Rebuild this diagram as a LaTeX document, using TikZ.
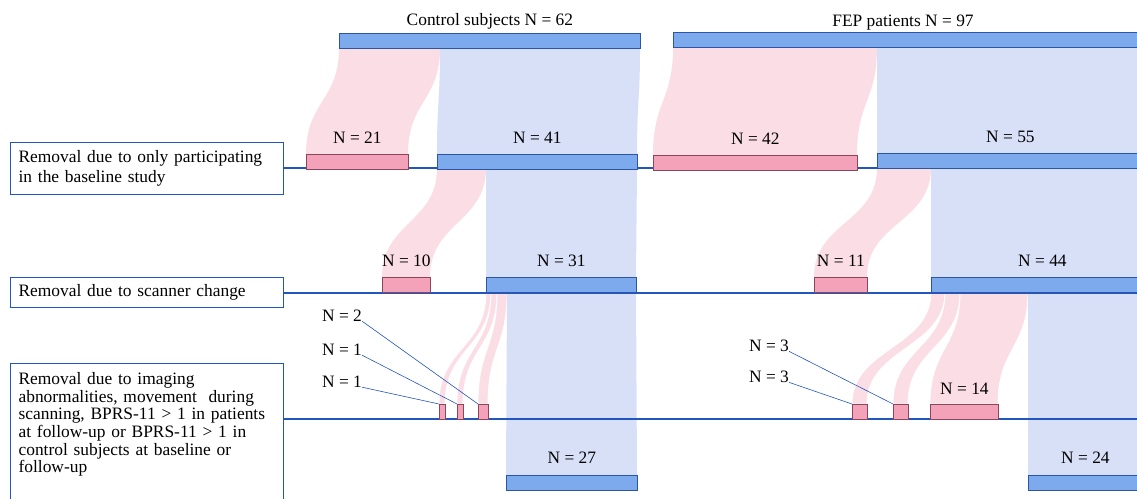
\documentclass[tikz,border=0pt]{standalone}
\usepackage{fontspec}
\setmainfont{Liberation Serif}
\usetikzlibrary{positioning}
\definecolor{flowpink}{RGB}{251,222,229}
\definecolor{flowblue}{RGB}{216,224,248}
\definecolor{barblue}{RGB}{125,170,236}
\definecolor{barblueline}{RGB}{45,85,165}
\definecolor{barpink}{RGB}{244,162,186}
\definecolor{barpinkline}{RGB}{140,70,90}
\definecolor{lineblue}{RGB}{35,85,190}

% band between two bars: x1a x1b y1 -> x2a x2b y2, style
\newcommand{\flowband}[7]{%
  \fill[#7] (#1,#3) .. controls (#1,{(#3+#6)/2}) and (#4,{(#3+#6)/2}) .. (#4,#6)
    -- (#5,#6) .. controls (#5,{(#3+#6)/2}) and (#2,{(#3+#6)/2}) .. (#2,#3) -- cycle;}

\begin{document}
\begin{tikzpicture}[
    x=1pt, y=-1pt,
    font=\fontsize{17.4}{20}\selectfont,
    bluebar/.style={draw=barblueline, fill=barblue, line width=0.8pt, inner sep=0pt, minimum height=15pt, anchor=north west},
    pinkbar/.style={draw=barpinkline, fill=barpink, line width=0.8pt, inner sep=0pt, minimum height=15pt, anchor=north west},
    strand/.style={fill=flowpink, draw=white, line width=0.8pt},
    count/.style={inner sep=0pt},
    rulebox/.style={draw=lineblue, line width=1.2pt, align=left, inner xsep=8pt, text width=257pt, anchor=north west},
    level/.style={draw=lineblue, line width=1.2pt},
    leader/.style={draw=lineblue, line width=0.6pt}
]
    \clip (0,0) rectangle (1137,498);

    % Flows, control subjects
    \flowband{339}{440}{48}{306}{408}{154}{flowpink}
    \flowband{440}{640}{48}{437}{637}{154}{flowblue}
    \flowband{437}{486}{168}{382}{430}{277}{flowpink}
    \flowband{486}{637}{168}{486}{636}{277}{flowblue}
    \flowband{486}{491}{292}{439}{445}{404}{strand}
    \flowband{491}{497}{292}{457}{463}{404}{strand}
    \flowband{497}{507}{292}{478}{488}{404}{strand}
    \flowband{507}{636}{292}{506}{637}{475}{flowblue}

    % Flows, FEP patients
    \flowband{673}{877}{47}{653}{857}{155}{flowpink}
    \flowband{877}{1150}{47}{877}{1150}{153}{flowblue}
    \flowband{877}{931}{168}{814}{867}{277}{flowpink}
    \flowband{931}{1150}{168}{931}{1150}{277}{flowblue}
    \flowband{931}{945}{292}{852}{867}{404}{strand}
    \flowband{945}{960}{292}{893}{908}{404}{strand}
    \flowband{960}{1028}{292}{930}{998}{404}{strand}
    \flowband{1028}{1150}{292}{1028}{1150}{475}{flowblue}

    % Removal steps
    \node[rulebox, minimum height=52pt] (box1) at (10,142) {Removal due to only participating\\in the baseline study};
    \node[rulebox, minimum height=30pt] (box2) at (10,277) {Removal due to scanner change};
    \node[rulebox, inner ysep=9pt] (box3) at (10,363) {\parbox[t][140pt][t]{257pt}{\fontsize{17.4}{17.6}\selectfont
        Removal due to imaging\\abnormalities, movement\ \ during\\scanning, BPRS-11 > 1 in patients\\at follow-up or BPRS-11 > 1 in\\control subjects at baseline or\\follow-up}};

    \coordinate (l1) at (1137,168);
    \coordinate (l2) at (1137,293);
    \coordinate (l3) at (1137,419);
    \draw[level] (box1.east |- l1) -- (l1);
    \draw[level] (box2.east |- l2) -- (l2);
    \draw[level] (box3.east |- l3) -- (l3);

    % Bars
    \node[bluebar, minimum width=301pt] (ctop) at (339,33) {};
    \node[bluebar, minimum width=470pt] (ftop) at (673,32) {};
    \node[pinkbar, minimum width=102pt] (c21) at (306,154) {};
    \node[bluebar, minimum width=200pt] (c41) at (437,154) {};
    \node[pinkbar, minimum width=204pt] (f42) at (653,155) {};
    \node[bluebar, minimum width=266pt] (f55) at (877,153) {};
    \node[pinkbar, minimum width=48pt] (c10) at (382,277) {};
    \node[bluebar, minimum width=150pt] (c31) at (486,277) {};
    \node[pinkbar, minimum width=53pt] (f11) at (814,277) {};
    \node[bluebar, minimum width=222pt] (f44) at (931,277) {};
    \node[pinkbar, minimum width=6pt] (c1a) at (439,404) {};
    \node[pinkbar, minimum width=6pt] (c1b) at (457,404) {};
    \node[pinkbar, minimum width=10pt] (c2) at (478,404) {};
    \node[pinkbar, minimum width=15pt] (f3a) at (852,404) {};
    \node[pinkbar, minimum width=15pt] (f3b) at (893,404) {};
    \node[pinkbar, minimum width=68pt] (f14) at (930,404) {};
    \node[bluebar, minimum width=131pt] (c27) at (506,475) {};
    \node[bluebar, minimum width=114pt] (f24) at (1028,475) {};

    % Group titles
    \node[count, above=4pt of ctop] (ctitle) {Control subjects N = 62};
    \node[count, anchor=base] (ftitle) at (903,26) {FEP patients N = 97};

    % Counts
    \node[count, above=10pt of c21] (lc21) {N = 21};
    \node[count, above=10pt of c41] (lc41) {N = 41};
    \node[count, above=10pt of f42] (lf42) {N = 42};
    \node[count, above=10pt of f55] (lf55) {N = 55};
    \node[count, above=10pt of c10] (lc10) {N = 10};
    \node[count, above=10pt of c31] (lc31) {N = 31};
    \node[count, above=10pt of f11] (lf11) {N = 11};
    \node[count, above=10pt of f44] (lf44) {N = 44};
    \node[count, above=9pt of f14] (lf14) {N = 14};
    \node[count, above=11pt of c27] (lc27) {N = 27};
    \node[count, above=11pt of f24] (lf24) {N = 24};

    % Small counts with leaders
    \node[count, anchor=base] (n2) at (342,321) {N = 2};
    \node[count, anchor=base] (n1b) at (342,355) {N = 1};
    \node[count, anchor=base] (n1a) at (342,387) {N = 1};
    \node[count, anchor=base] (n3b) at (769,351) {N = 3};
    \node[count, anchor=base] (n3a) at (769,382) {N = 3};
    \draw[leader] (n2.south east) -- (c2.north west);
    \draw[leader] (n1b.south east) -- (c1b.north west);
    \draw[leader] (n1a.south east) -- (c1a.north west);
    \draw[leader] (n3b.south east) -- (f3b.north west);
    \draw[leader] (n3a.south east) -- (f3a.north west);
\end{tikzpicture}
\end{document}
